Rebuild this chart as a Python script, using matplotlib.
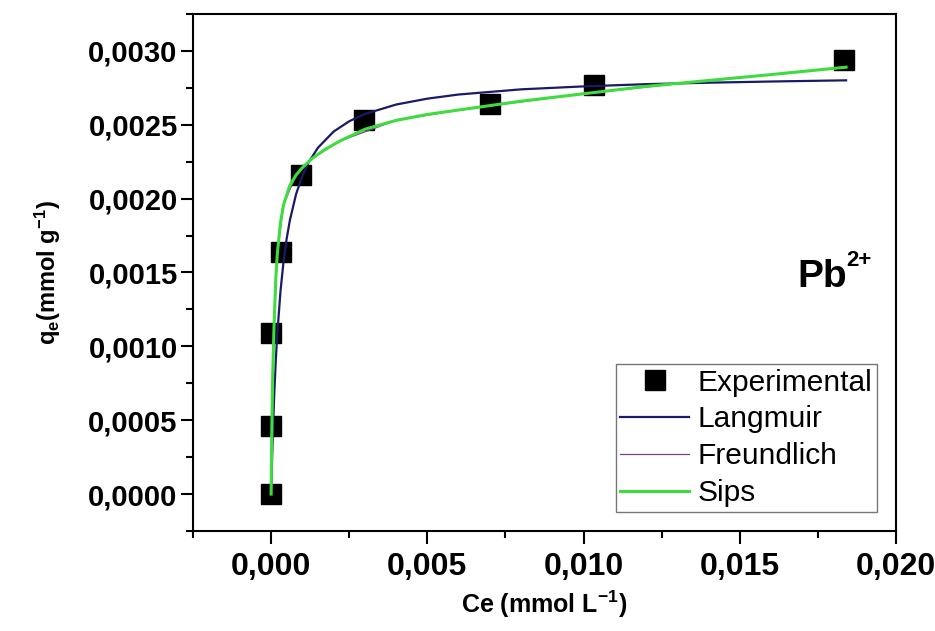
import matplotlib
matplotlib.use("Agg")
import matplotlib.pyplot as plt
from matplotlib.ticker import MultipleLocator, FuncFormatter

plt.rcParams["font.family"] = ["Liberation Sans", "DejaVu Sans"]
plt.rcParams["mathtext.fontset"] = "custom"
plt.rcParams["mathtext.rm"] = "Liberation Sans:bold"
plt.rcParams["mathtext.it"] = "Liberation Sans:bold"
plt.rcParams["mathtext.bf"] = "Liberation Sans:bold"
plt.rcParams["mathtext.default"] = "rm"

# experimental points
ce_exp = [0.0, 0.0, 0.0, 0.00032, 0.00097, 0.00298, 0.00702, 0.01032, 0.01834]
qe_exp = [0.0, 0.00046, 0.00109, 0.00164, 0.00216, 0.00253, 0.00264, 0.00277, 0.00294]

# fitted curves, sampled along the drawn lines
ce_lang = [0.0, 0.00005, 0.0001, 0.00015, 0.0002, 0.0003, 0.0004, 0.0005, 0.0006, 0.0008,
           0.001, 0.0012, 0.0015, 0.002, 0.0025, 0.003, 0.004, 0.005, 0.006, 0.008,
           0.010, 0.012, 0.014, 0.016, 0.0184]
qe_lang = [0.0, 0.000382, 0.000674, 0.000905, 0.00109, 0.001373, 0.001578, 0.001732, 0.001853, 0.002031,
           0.002155, 0.002246, 0.002345, 0.002454, 0.002524, 0.002573, 0.002637, 0.002677, 0.002705, 0.00274,
           0.00276, 0.002775, 0.002785, 0.002793, 0.002801]

ce_sips = [0.0, 0.00002, 0.00005, 0.0001, 0.00015, 0.0002, 0.0003, 0.0004, 0.0006, 0.0008,
           0.001, 0.0013, 0.0017, 0.0022, 0.003, 0.004, 0.005, 0.006, 0.008, 0.010,
           0.012, 0.014, 0.016, 0.0184]
qe_sips = [0.0, 0.0004, 0.0008, 0.00118, 0.00146, 0.00163, 0.00184, 0.00196, 0.00209, 0.00216,
           0.00221, 0.00227, 0.00233, 0.00239, 0.00247, 0.00253, 0.00257, 0.0026, 0.00266, 0.00271,
           0.00276, 0.0028, 0.00284, 0.00289]

# Freundlich sits underneath the Sips line
ce_freu = [0.0, 0.00002, 0.00005, 0.0001, 0.0002, 0.0004, 0.0008, 0.0013, 0.0022, 0.004,
           0.006, 0.010, 0.014, 0.0184]
qe_freu = [0.0, 0.0004, 0.0008, 0.00118, 0.00163, 0.00196, 0.00216, 0.00227, 0.00239, 0.00253,
           0.0026, 0.00271, 0.0028, 0.00289]


def comma(fmt):
    return FuncFormatter(lambda v, pos: fmt.format(v).replace(".", ","))


fig = plt.figure(figsize=(9.35, 6.31), dpi=100)
ax = fig.add_axes([0.2064, 0.1585, 0.752, 0.8193])

ax.plot(ce_freu, qe_freu, color="#7b3f8c", lw=0.9, label="Freundlich", zorder=2)
ax.plot(ce_lang, qe_lang, color="#1a1a66", lw=1.6, label="Langmuir", zorder=3)
ax.plot(ce_sips, qe_sips, color="#3fdc3f", lw=2.2, label="Sips", zorder=4)
ax.plot(ce_exp, qe_exp, "s", color="black", ms=14, label="Experimental", zorder=1)

ax.set_xlim(-0.0025, 0.020)
ax.set_ylim(-0.00025, 0.00325)
ax.xaxis.set_major_locator(MultipleLocator(0.005))
ax.xaxis.set_minor_locator(MultipleLocator(0.0025))
ax.yaxis.set_major_locator(MultipleLocator(0.0005))
ax.yaxis.set_minor_locator(MultipleLocator(0.00025))
ax.xaxis.set_major_formatter(comma("{:.3f}"))
ax.yaxis.set_major_formatter(comma("{:.4f}"))

ax.tick_params(which="major", direction="out", length=9, width=1.5, pad=2)
ax.tick_params(which="minor", direction="out", length=5, width=1.5)
ax.tick_params(axis="x", which="major", pad=6)
for sp in ax.spines.values():
    sp.set_linewidth(1.5)
for lab in ax.get_yticklabels():
    lab.set_fontsize(21)
    lab.set_fontweight("bold")
for lab in ax.get_xticklabels():
    lab.set_fontsize(23)
    lab.set_fontweight("bold")

ax.set_xlabel("Ce (mmol L$^{-1}$)", fontsize=18, fontweight="bold", labelpad=5)
ax.set_ylabel("q$_{e}$(mmol g$^{-1}$)", fontsize=17, fontweight="bold", labelpad=18)

pb = ax.text(0.01683, 0.00147, "Pb", fontsize=28, fontweight="bold", ha="left", va="center")
ax.annotate("2+", xy=(1.0, 0.95), xycoords=pb, fontsize=16, fontweight="bold",
            ha="left", va="center")

handles, labels = ax.get_legend_handles_labels()
order = [3, 1, 0, 2]
leg = ax.legend([handles[i] for i in order], [labels[i] for i in order],
                loc="lower right", bbox_to_anchor=(0.973, 0.037), fontsize=21.5,
                frameon=True, fancybox=False, edgecolor="#555555", handlelength=2.3,
                handletextpad=0.3, labelspacing=0.3, borderpad=0.15, markerscale=1.0,
                borderaxespad=0)
leg.get_frame().set_linewidth(1.0)

fig.savefig("out.png", dpi=100)
